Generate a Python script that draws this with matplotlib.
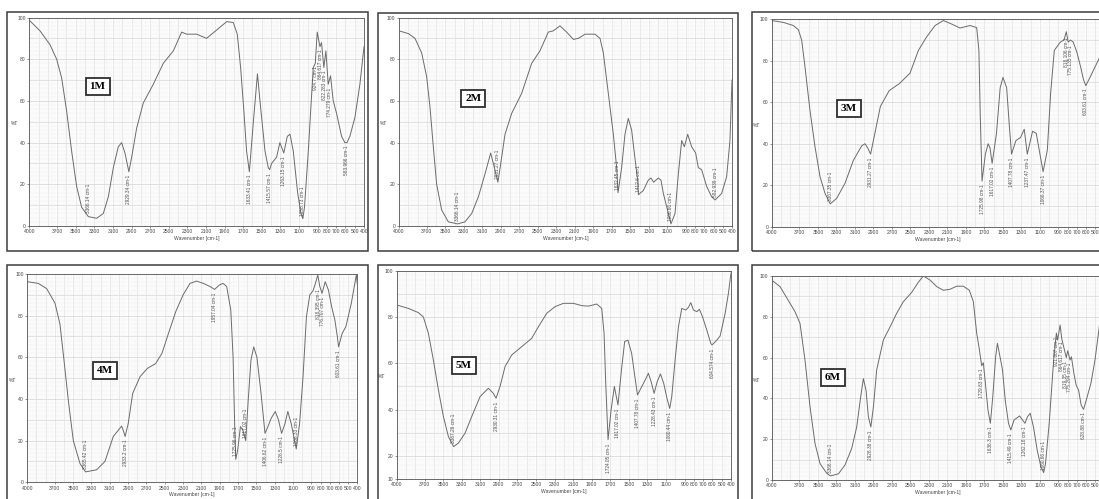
import numpy as np
import matplotlib.pyplot as plt
from matplotlib.patches import Rectangle

# ---- spectra (wavenumber cm-1, %T) ----
wn_1m = [4000, 3885, 3778, 3706, 3652, 3598, 3545, 3491, 3437, 3365, 3276, 3204, 3150, 3096, 3043, 3007,
         2971, 2929, 2899, 2845, 2774, 2666, 2559, 2451, 2361, 2308, 2200, 2093, 1985, 1877, 1806, 1763,
         1727, 1692, 1663, 1633, 1590, 1546, 1519, 1465, 1430, 1415, 1394, 1340, 1305, 1263, 1225, 1196,
         1161, 1114, 1078, 1058, 1040, 999, 946, 924, 903, 874, 857, 832, 810, 785, 760, 731, 695, 641,
         606, 583, 552, 498, 444, 400]
t_1m = [98.7, 93.6, 87, 80, 71, 55, 36, 19, 9, 4.5, 3.7, 6, 14, 28, 38, 40, 35, 26, 33, 47, 59, 68, 78, 84,
        93, 92, 92, 90, 94, 98, 97.6, 92, 76, 55, 36, 26, 50, 73, 60, 36, 28, 27, 30, 33, 40, 35, 43, 44,
        36, 16, 6, 3.5, 9, 36, 76, 78, 93, 86, 88, 76, 84, 68, 72, 60, 54, 43, 40, 40, 43, 52, 68, 86]

wn_2m = [4000, 3899, 3827, 3755, 3701, 3665, 3629, 3593, 3539, 3467, 3366, 3287, 3214, 3142, 3070, 3009,
         2969, 2931, 2908, 2854, 2782, 2674, 2566, 2476, 2386, 2332, 2260, 2188, 2115, 2061, 1989, 1881,
         1827, 1791, 1737, 1683, 1647, 1632, 1593, 1557, 1521, 1485, 1456, 1420, 1412, 1359, 1305, 1276,
         1247, 1197, 1168, 1142, 1088, 1060, 1016, 980, 944, 915, 879, 836, 793, 764, 728, 674, 620, 582,
         512, 458, 422, 400]
t_2m = [93.6, 92.3, 90, 83, 71.6, 57, 38, 20, 7.7, 2, 1, 2, 6, 14, 25, 35, 28, 21, 27.6, 44, 54, 63.6, 78,
        84, 93, 93.6, 96, 93, 89.5, 90, 92, 92, 90, 83, 63.6, 44, 28, 16, 28, 44, 51.6, 46, 35, 22, 15, 17,
        22, 23, 21, 23, 22, 15.6, 6, 1, 6, 25, 41, 38, 44, 38, 35, 28, 27, 19, 14, 12.5, 15.6, 23.6, 41, 70]

wn_3m = [4000, 3874, 3766, 3712, 3676, 3640, 3586, 3532, 3477, 3423, 3367, 3297, 3207, 3117, 3027, 2991,
         2960, 2931, 2880, 2825, 2730, 2620, 2505, 2414, 2324, 2234, 2144, 2054, 1964, 1856, 1784, 1760,
         1745, 1726, 1690, 1660, 1640, 1617, 1570, 1530, 1500, 1460, 1430, 1407, 1360, 1310, 1270, 1237,
         1180, 1140, 1100, 1066, 1020, 985, 945, 880, 840, 815, 795, 770, 740, 700, 660, 630, 604, 559,
         505, 461, 420]
t_3m = [99.4, 98.5, 97, 95, 90, 77, 56, 38.6, 24, 16, 11, 13.7, 21, 32, 39, 40, 37.8, 35, 46, 58, 65.6, 69,
        74, 85, 91.6, 97, 99.4, 97.7, 95.8, 97, 96, 85, 53, 22, 35, 40, 38, 30.5, 45, 67, 72, 67, 48, 35,
        41.5, 43, 47, 35, 46, 45, 35, 26.5, 37, 64, 85, 89, 90, 94, 89, 90, 89, 84, 77, 71, 68, 72, 77,
        81, 85]

wn_4m = [4000, 3880, 3789, 3698, 3644, 3600, 3553, 3498, 3425, 3365, 3244, 3153, 3062, 2971, 2950, 2933,
         2900, 2850, 2770, 2690, 2600, 2530, 2460, 2380, 2300, 2225, 2153, 2080, 2007, 1957, 1905, 1865,
         1825, 1780, 1755, 1738, 1726, 1705, 1675, 1648, 1617, 1590, 1560, 1530, 1495, 1450, 1407, 1375,
         1340, 1295, 1260, 1226, 1190, 1158, 1120, 1066, 1030, 992, 955, 918, 882, 857, 831, 809, 785,
         750, 715, 680, 645, 618, 604, 565, 525, 465, 410, 400]
t_4m = [96.3, 95.5, 93, 86, 76, 58.7, 39.5, 20, 9, 5, 6, 10, 22, 27, 24.5, 22, 28, 42.7, 50.7, 54.7, 57,
        62, 71.5, 82, 90, 95.5, 96.6, 95.5, 94, 92.6, 94.7, 95.5, 94, 82.7, 60, 28, 11, 15.5, 26.7, 25,
        20, 39.5, 58.7, 65, 60, 42.7, 23.5, 26.7, 30.7, 34, 30, 23.5, 28, 34, 28, 16, 28, 50.7, 79.5,
        90, 92, 95.5, 99.5, 94, 90.7, 96.3, 92.3, 84.3, 78, 70, 65, 71.5, 74.7, 86, 99.7, 95]

wn_5m = [4000, 3874, 3767, 3713, 3659, 3605, 3551, 3497, 3443, 3387, 3336, 3264, 3192, 3102, 3013, 2959,
         2930, 2887, 2833, 2761, 2653, 2546, 2474, 2384, 2294, 2204, 2097, 2007, 1935, 1846, 1792, 1767,
         1749, 1724, 1691, 1656, 1635, 1617, 1580, 1545, 1510, 1470, 1435, 1407, 1360, 1315, 1290, 1260,
         1228, 1195, 1160, 1125, 1090, 1060, 1038, 1002, 966, 930, 887, 858, 833, 804, 768, 740, 707,
         661, 618, 604, 553, 517, 463, 428, 400]
t_5m = [85.2, 83.7, 81.9, 80, 73, 61.4, 48.5, 37, 28.3, 24, 25.5, 29.8, 37, 45.6, 49.2, 47, 44.9, 50,
        58.6, 63.6, 67.2, 70.8, 75.8, 81.6, 84.5, 85.9, 85.9, 84.9, 84.7, 85.6, 83.7, 73, 51.4, 27, 39.9,
        50, 45.6, 42, 57, 69.4, 70, 64.3, 54.2, 46.3, 50, 53.5, 55.7, 52, 47, 52, 55.4, 51.4, 44.9, 40.5,
        45.6, 61.4, 75.8, 83.7, 83, 84.2, 86.2, 83, 82.3, 83.3, 80.1, 74.4, 68.6, 67.9, 70, 71.8, 81.6,
        90.2, 99]

wn_6m = [4000, 3910, 3820, 3748, 3694, 3640, 3586, 3532, 3477, 3405, 3366, 3279, 3207, 3135, 3081, 3038,
         3009, 2980, 2955, 2928, 2900, 2865, 2793, 2721, 2649, 2577, 2486, 2414, 2360, 2288, 2216, 2144,
         2072, 2000, 1928, 1863, 1820, 1784, 1755, 1730, 1712, 1690, 1662, 1636, 1610, 1580, 1560, 1530,
         1505, 1475, 1440, 1415, 1380, 1320, 1262, 1235, 1205, 1170, 1130, 1090, 1060, 1040, 1000, 950,
         922, 909, 882, 865, 842, 815, 799, 775, 760, 732, 709, 682, 655, 629, 599, 549, 505, 459, 420]
t_6m = [98, 94.8, 88, 82.5, 76.8, 58.8, 36, 18, 8, 3.3, 2, 3, 7.4, 15.5, 26, 40.8, 49.7, 44, 31, 26, 36,
        54, 68.6, 75, 81.7, 87.4, 92, 97, 100, 98, 94.8, 93, 93.5, 95, 95, 93, 87.4, 72, 64, 56, 57.5,
        47.4, 34.3, 27.8, 40.8, 60, 67, 60, 54, 39, 27.8, 24.5, 29.4, 31.4, 27.8, 31, 32.7, 26, 14.7,
        6.5, 3.6, 8, 27.8, 60, 72, 68.6, 76, 69.4, 65, 60, 63.4, 58.8, 60.4, 52, 46.6, 44, 36.8, 34.6,
        39.2, 47.4, 58.8, 75, 88]

# peak labels (wavenumber text), %T at the peak, label written above (1) or below (0)
pk_1m = ["3366.14", "2929.34", "1633.41", "1415.57", "1263.15", "1058.73", "924.7", "864.617",
         "822.283", "774.279", "583.966"]
pkt_1m = [4.5, 26, 26, 27, 35, 3.5, 78, 86, 76, 68, 40]
pku_1m = [1, 0, 0, 0, 0, 1, 0, 0, 0, 0, 0]

pk_2m = ["3366.14", "2931.27", "1632.45", "1412.6", "1060.66", "582.939"]
pkt_2m = [1, 21, 16, 15, 1, 12.5]
pku_2m = [1, 1, 1, 1, 1, 1]

pk_3m = ["3367.35", "2931.27", "1725.98", "1617.02", "1407.78", "1237.47", "1066.37", "818.106",
         "775.135", "603.61"]
pkt_3m = [11, 35, 22, 30.5, 35, 35, 26.5, 93, 89, 68]
pku_3m = [1, 0, 0, 0, 0, 0, 0, 0, 0, 0]

pk_4m = ["3365.42", "2933.2", "1957.04", "1725.96", "1617.02", "1406.62", "1226.5", "1066.33",
         "818.395", "776.707", "603.61"]
pkt_4m = [5, 22, 92.6, 11, 20, 23.5, 23.5, 16, 94, 90.7, 65]
pku_4m = [1, 0, 0, 1, 1, 0, 0, 1, 0, 0, 0]

pk_5m = ["3387.26", "2930.31", "1724.05", "1617.02", "1407.78", "1228.43", "1060.44", "604.574"]
pkt_5m = [24, 44.9, 27, 42, 46.3, 47, 40.5, 67.9]
pku_5m = [1, 0, 0, 0, 0, 0, 0, 0]

pk_6m = ["3366.14", "2928.38", "1729.83", "1636.3", "1415.49", "1262.18", "1060.66", "921.807",
         "864.617", "819.35", "775.294", "628.88"]
pkt_6m = [2, 26, 56, 27.8, 24.5, 27.8, 3.6, 72, 69.4, 60, 58.8, 34.6]
pku_6m = [1, 0, 0, 0, 0, 0, 1, 0, 0, 0, 0, 0]

names = ["1M", "2M", "3M", "4M", "5M", "6M"]
xticks = [4000, 3700, 3500, 3300, 3100, 2900, 2700, 2500, 2300, 2100, 1900, 1700, 1500, 1300, 1100,
          900, 800, 700, 600, 500, 400]

W, H = 1099, 499
fig = plt.figure(figsize=(W / 100, H / 100), dpi=100)
fig.patch.set_facecolor("white")
plt.rcParams['font.family'] = ['Liberation Sans', 'DejaVu Sans']

def fig_rect(x0, y0, x1, y1):
    return [x0 / W, 1 - y1 / H, (x1 - x0) / W, (y1 - y0) / H]

# layout in pixels: frame box, axes box, name box centre (data coords)
panels = [
    dict(wn=wn_1m, t=t_1m, pk=pk_1m, pkt=pkt_1m, pku=pku_1m, ylo=0,
         frame=(7, 12, 368, 251), ax=(29.3, 17.5, 364, 226), tag=(3265, 67)),
    dict(wn=wn_2m, t=t_2m, pk=pk_2m, pkt=pkt_2m, pku=pku_2m, ylo=0,
         frame=(378, 13, 738, 251), ax=(399, 17.5, 732, 226), tag=(3196, 61)),
    dict(wn=wn_3m, t=t_3m, pk=pk_3m, pkt=pkt_3m, pku=pku_3m, ylo=0,
         frame=(752, 12, 1110, 251), ax=(771.7, 19.3, 1104.7, 226.7), tag=(3168, 57)),
    dict(wn=wn_4m, t=t_4m, pk=pk_4m, pkt=pkt_4m, pku=pku_4m, ylo=0,
         frame=(7, 265, 368, 510), ax=(27.3, 274, 357.3, 482.3), tag=(3149, 53.6)),
    dict(wn=wn_5m, t=t_5m, pk=pk_5m, pkt=pkt_5m, pku=pku_5m, ylo=10,
         frame=(378, 265, 738, 510), ax=(396.7, 270.7, 731, 479), tag=(3275, 59)),
    dict(wn=wn_6m, t=t_6m, pk=pk_6m, pkt=pkt_6m, pku=pku_6m, ylo=0,
         frame=(752, 265, 1110, 510), ax=(771.7, 276, 1104.7, 480), tag=(3341, 50.3)),
]

for name, p in zip(names, panels):
    fx0, fy0, fx1, fy1 = p["frame"]
    fig.patches.append(Rectangle((fx0 / W, 1 - fy1 / H), (fx1 - fx0) / W, (fy1 - fy0) / H,
                                 transform=fig.transFigure, fill=False, ec="#3c3c3c", lw=1.1))
    ax = fig.add_axes(fig_rect(*p["ax"]))
    ax.set_xlim(4000, 400)
    ax.set_ylim(p["ylo"], 100)

    # chart-paper grid
    ax.set_xticks(xticks)
    ax.set_xticks(np.arange(400, 4001, 20), minor=True)
    yt = [10, 20, 40, 60, 80, 100] if p["ylo"] == 10 else [0, 20, 40, 60, 80, 100]
    ax.set_yticks(yt)
    ax.set_yticks(np.arange(p["ylo"], 101, 2), minor=True)
    for v in range(p["ylo"], 101, 10):
        ax.axhline(v, color="#cdcdcd", lw=0.5, zorder=0)
    for v in range(400, 4001, 100):
        ax.axvline(v, color="#d6d6d6", lw=0.4, zorder=0)
    ax.grid(which="minor", color="#eeeeee", lw=0.3, zorder=0)

    ax.tick_params(axis="both", which="major", labelsize=3.6, length=1.5, width=0.4, pad=1,
                   colors="#444444")
    ax.tick_params(axis="both", which="minor", length=1.0, width=0.3, colors="#777777")
    ax.tick_params(axis="y", which="minor", length=0)
    for s in ax.spines.values():
        s.set_color("#555555")
        s.set_linewidth(0.6)

    ax.set_xlabel("Wavenumber [cm-1]", fontsize=3.6, labelpad=1, color="#444444")
    ax.text(-0.045, 0.49, "%T", transform=ax.transAxes, fontsize=3.6, color="#444444",
            ha="center", va="center")

    ax.plot(p["wn"], p["t"], color="#6b6b6b", lw=0.7, zorder=3)

    for lab, tv, up in zip(p["pk"], p["pkt"], p["pku"]):
        if up:
            ax.text(float(lab), tv + 1.5, lab + " cm-1", rotation=90, fontsize=3.4, color="#505050",
                    ha="center", va="bottom", zorder=4)
        else:
            ax.text(float(lab), tv - 1.5, lab + " cm-1", rotation=90, fontsize=3.4, color="#505050",
                    ha="center", va="top", zorder=4)

    ax.text(p["tag"][0], p["tag"][1], name, fontsize=8, fontweight="bold", family="Liberation Serif",
            ha="center", va="center", zorder=5,
            bbox=dict(boxstyle="square,pad=0.35", fc="white", ec="#2e2e2e", lw=1.3))

fig.savefig("out.png", dpi=100, facecolor="white")
